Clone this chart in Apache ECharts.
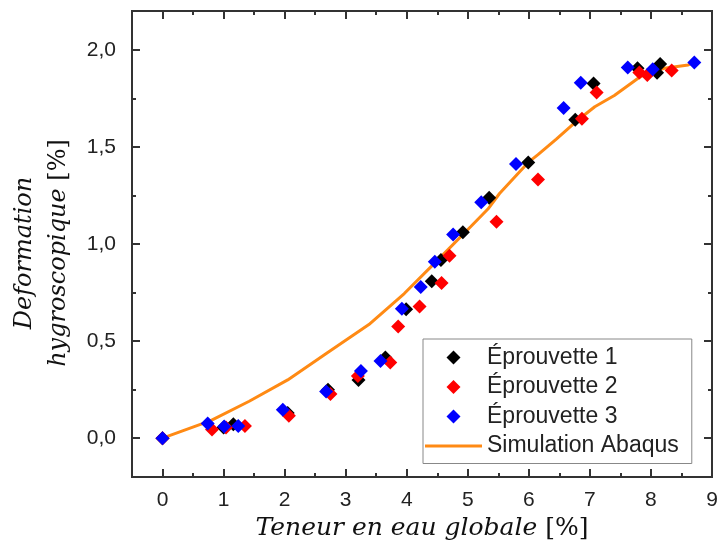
<!DOCTYPE html>
<html>
<head>
<meta charset="utf-8">
<script src="https://cdn.jsdelivr.net/npm/echarts@6/dist/echarts.min.js"></script>
<style>html,body{margin:0;padding:0;background:#fff;}#c{width:719px;height:545px;}</style>
</head>
<body>
<div id="c"></div>
<script>
var seriesNames = ['Éprouvette 1', 'Éprouvette 2', 'Éprouvette 3', 'Simulation Abaqus'];
var xMajorTicks = [0, 1, 2, 3, 4, 5, 6, 7, 8, 9];
var xMinorTicks = [0.5, 1.5, 2.5, 3.5, 4.5, 5.5, 6.5, 7.5, 8.5];
var yMajorTicks = [0, 0.5, 1.0, 1.5, 2.0];
var yMinorTicks = [0.25, 0.75, 1.25, 1.75];

var eprouvette1 = [[0,0],[1.0,0.055],[1.16,0.072],[2.05,0.13],[2.71,0.25],[3.21,0.30],[3.65,0.415],[3.99,0.664],[4.41,0.808],[4.56,0.918],[4.92,1.06],[5.35,1.238],[5.99,1.42],[6.76,1.64],[7.06,1.826],[7.78,1.905],[8.10,1.882],[8.15,1.927]];
var eprouvette2 = [[0,0],[0.81,0.045],[1.04,0.055],[1.35,0.063],[2.07,0.115],[2.75,0.228],[3.20,0.32],[3.73,0.39],[3.86,0.575],[4.21,0.678],[4.57,0.799],[4.70,0.939],[5.47,1.115],[6.15,1.332],[6.87,1.645],[7.11,1.78],[7.81,1.883],[7.94,1.871],[8.34,1.893]];
var eprouvette3 = [[0,0],[0.74,0.075],[1.01,0.06],[1.24,0.063],[1.97,0.146],[2.68,0.24],[3.25,0.346],[3.57,0.398],[3.92,0.666],[4.23,0.778],[4.46,0.908],[4.76,1.049],[5.22,1.215],[5.79,1.412],[6.57,1.70],[6.85,1.83],[7.62,1.909],[8.03,1.90],[8.71,1.935]];
var simulation = [[0,0],[0.79,0.09],[1.42,0.19],[2.05,0.30],[2.70,0.44],[3.38,0.585],[3.96,0.745],[4.51,0.918],[5.05,1.09],[5.33,1.18],[5.52,1.26],[5.99,1.42],[6.15,1.46],[6.45,1.54],[6.81,1.64],[7.08,1.707],[7.40,1.765],[7.79,1.854],[7.90,1.875],[8.22,1.905],[8.61,1.922],[8.71,1.935]];

var axisColor = '#333';
var labelFont = {fontFamily: '"Liberation Sans", Arial, sans-serif', fontSize: 21, color: '#222'};

function xAx(pos, ticks, len, labels) {
  return {
    type: 'value', position: pos, min: -0.5, max: 9,
    axisLine: {show: true, onZero: false, lineStyle: {color: axisColor, width: 2}},
    axisTick: {show: true, inside: true, length: len, customValues: ticks, lineStyle: {color: axisColor, width: 2}},
    axisLabel: labels ? Object.assign({show: true, customValues: ticks, margin: 13}, labelFont) : {show: false},
    splitLine: {show: false}
  };
}
function yAx(pos, ticks, len, labels) {
  return {
    type: 'value', position: pos, min: -0.2, max: 2.2,
    axisLine: {show: true, onZero: false, lineStyle: {color: axisColor, width: 2}},
    axisTick: {show: true, inside: true, length: len, customValues: ticks, lineStyle: {color: axisColor, width: 2}},
    axisLabel: labels ? Object.assign({show: true, customValues: ticks, margin: 16,
      formatter: function (v) { return v.toFixed(1).replace('.', ','); }}, labelFont) : {show: false},
    splitLine: {show: false}
  };
}

var xAxes = [xAx('bottom', xMajorTicks, 8, true), xAx('bottom', xMinorTicks, 4, false), xAx('top', xMajorTicks, 8, false), xAx('top', xMinorTicks, 4, false)];
var yAxes = [yAx('left', yMajorTicks, 8, true), yAx('left', yMinorTicks, 4, false), yAx('right', yMajorTicks, 8, false), yAx('right', yMinorTicks, 4, false)];

var serif = '"DejaVu Serif", "Liberation Serif", serif';
xAxes[0].name = '{i|Teneur en eau globale}{n| [%]}';
xAxes[0].nameLocation = 'middle';
xAxes[0].nameGap = 36;
xAxes[0].nameTextStyle = {rich: {
  i: {fontFamily: serif, fontStyle: 'italic', fontSize: 25, color: '#111'},
  n: {fontFamily: serif, fontSize: 25, color: '#111'}
}};
yAxes[0].name = '{i|Deformation}\n{i|hygroscopique}{n| [%]}';
yAxes[0].nameLocation = 'middle';
yAxes[0].nameRotate = 90;
yAxes[0].nameGap = 54;
yAxes[0].nameTextStyle = {lineHeight: 34, padding: [0, 18, 0, 0], rich: {
  i: {fontFamily: serif, fontStyle: 'italic', fontSize: 24, color: '#111', lineHeight: 34},
  n: {fontFamily: serif, fontSize: 24, color: '#111', lineHeight: 34}
}};

function scatter(name, data, color) {
  return {name: name, type: 'scatter', data: data, symbol: 'diamond', symbolSize: 14,
    itemStyle: {color: color, opacity: 1}, xAxisIndex: 0, yAxisIndex: 0, z: 3};
}

var diamondIcon = 'path://M7,0L14,7L7,14L0,7Z';
var chart = echarts.init(document.getElementById('c'), null, {renderer: 'canvas'});
chart.setOption({
  animation: false,
  backgroundColor: '#fff',
  grid: {left: 132, right: 7, top: 11, bottom: 68, containLabel: false, outerBoundsMode: 'none'},
  xAxis: xAxes,
  yAxis: yAxes,
  legend: {
    orient: 'vertical', left: 423, top: 339,
    itemWidth: 57, itemHeight: 14, itemGap: 6.5,
    symbolKeepAspect: true,
    padding: [7, 13, 6, 2],
    borderColor: '#888', borderWidth: 1, backgroundColor: '#fff',
    textStyle: {fontFamily: '"Liberation Sans", Arial, sans-serif', fontSize: 23, color: '#222'},
    data: [
      {name: seriesNames[0], icon: diamondIcon},
      {name: seriesNames[1], icon: diamondIcon},
      {name: seriesNames[2], icon: diamondIcon},
      {name: seriesNames[3], icon: 'path://M0,0H57V3H0Z'}
    ]
  },
  series: [
    scatter(seriesNames[0], eprouvette1, '#000000'),
    scatter(seriesNames[1], eprouvette2, '#ff0000'),
    scatter(seriesNames[2], eprouvette3, '#0000ff'),
    {name: seriesNames[3], type: 'line', data: simulation, symbol: 'none', showSymbol: false,
      lineStyle: {color: '#ff8a14', width: 3}, itemStyle: {color: '#ff8a14'}, xAxisIndex: 0, yAxisIndex: 0, z: 2}
  ]
});
</script>
</body>
</html>
